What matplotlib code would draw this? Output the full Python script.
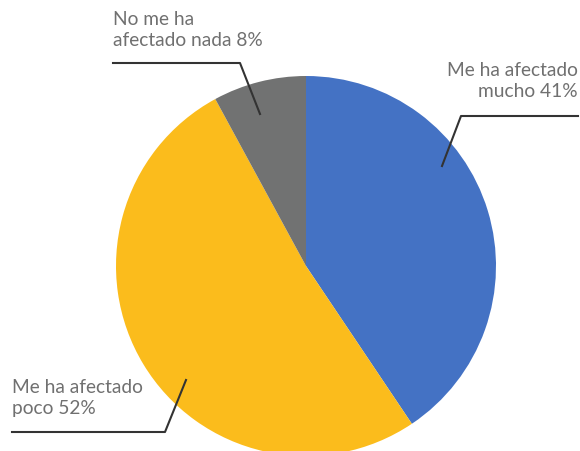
import matplotlib.pyplot as plt

labels = ["Me ha afectado\nmucho 41%", "Me ha afectado\npoco 52%", "No me ha\nafectado nada 8%"]
valores = [41, 52, 8]
colores = ["#4472C4", "#FBBC1C", "#717272"]

fig = plt.figure(figsize=(5.8, 4.51), dpi=100)
ax = fig.add_axes([0, 0, 1, 1])

# pie en coordenadas de pixel (y hacia arriba)
ax.pie(valores, colors=colores, startangle=90, counterclock=False,
       center=(306, 185), radius=190, frame=True,
       wedgeprops=dict(linewidth=0))
ax.set_xlim(0, 580)
ax.set_ylim(0, 451)
ax.set_aspect("equal")
ax.axis("off")

gris = "#707070"
linea = "#333333"
fuente = "Lato"

# líneas guía
ax.plot([442, 461, 578], [285, 335, 335], color=linea, lw=1.5)
ax.plot([260, 240, 113], [337, 388, 388], color=linea, lw=1.5)
ax.plot([186, 165, 12], [71, 19, 19], color=linea, lw=1.5)

ax.text(578, 389, labels[0], ha="right", va="top", color=gris,
        fontsize=13.8, family=fuente, linespacing=1.3)
ax.text(12, 72, labels[1], ha="left", va="top", color=gris,
        fontsize=13.8, family=fuente, linespacing=1.3)
ax.text(113, 440, labels[2], ha="left", va="top", color=gris,
        fontsize=13.8, family=fuente, linespacing=1.3)

fig.savefig("out.png", dpi=100)
